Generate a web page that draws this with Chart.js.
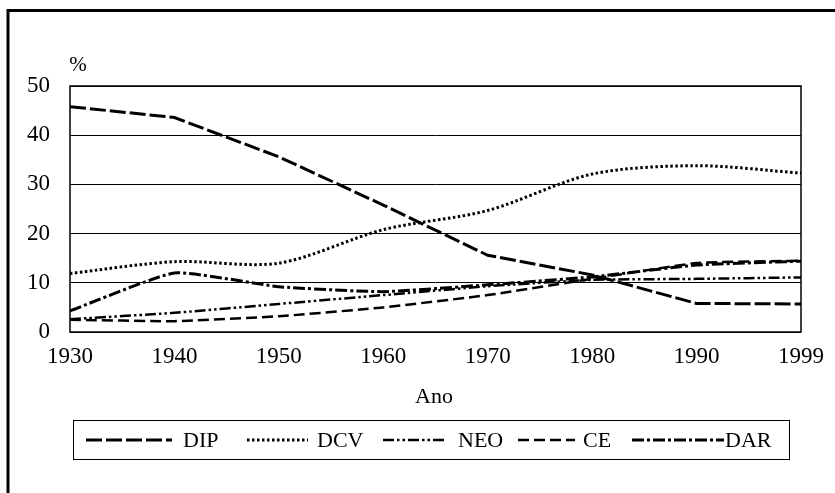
<!DOCTYPE html>
<html>
<head>
<meta charset="utf-8">
<script src="https://cdn.jsdelivr.net/npm/chart.js@4.4.1/dist/chart.umd.min.js"></script>
<style>
  html, body { margin: 0; padding: 0; background: #fff; }
  #wrap { position: relative; width: 835px; height: 493px; }
</style>
</head>
<body>
<div id="wrap"><canvas id="grafico"></canvas></div>
<script>
/* dados */
const anos = ['1930', '1940', '1950', '1960', '1970', '1980', '1990', '1999'];
const dip = [45.8, 43.6, 35.6, 25.8, 15.6, 11.6, 5.8, 5.7];
const dcv = [11.9, 14.3, 14.0, 20.8, 24.7, 32.1, 33.8, 32.3];
const neo = [2.6, 3.9, 5.7, 7.5, 9.3, 10.6, 10.8, 11.1];
const ce = [2.5, 2.2, 3.2, 5.0, 7.5, 10.8, 14.0, 14.5];
const dar = [4.3, 12.0, 9.2, 8.2, 9.6, 11.2, 13.6, 14.4];
const yTicks = [0, 10, 20, 30, 40, 50];

const fonte = '"Liberation Serif", "Times New Roman", serif';

/* moldura, área do gráfico, %, Ano e legenda */
const extras = {
    id: 'extras',
    beforeDraw(chart) {
        const c = chart.ctx;
        c.save();
        c.fillStyle = '#fff';
        c.fillRect(0, 0, chart.width, chart.height);
        c.strokeStyle = '#000';
        c.lineWidth = 3;
        c.beginPath();
        c.moveTo(8, 493);
        c.lineTo(8, 10.5);
        c.lineTo(835, 10.5);
        c.stroke();
        c.restore();
    },
    afterDraw(chart) {
        const c = chart.ctx;
        const a = chart.chartArea;
        c.save();
        c.strokeStyle = '#000';
        c.lineWidth = 1.5;
        c.strokeRect(a.left, a.top, a.right - a.left, a.bottom - a.top);

        c.fillStyle = '#000';
        c.textAlign = 'center';
        c.textBaseline = 'middle';
        c.font = '21px ' + fonte;
        c.fillText('%', 78, 65);
        c.font = '22px ' + fonte;
        c.fillText('Ano', 434, 397);

        // legenda
        c.lineWidth = 1;
        c.strokeRect(73.5, 420.5, 716, 39);
        const itens = [
            { s: 86, e: 172, t: 183 },
            { s: 247, e: 308, t: 317 },
            { s: 383, e: 444, t: 458 },
            { s: 518, e: 575, t: 583 },
            { s: 632, e: 724, t: 725 }
        ];
        c.font = '22px ' + fonte;
        c.textAlign = 'left';
        chart.data.datasets.forEach((ds, i) => {
            const it = itens[i];
            c.save();
            c.lineWidth = ds.borderWidth;
            c.setLineDash(ds.borderDash);
            c.beginPath();
            c.moveTo(it.s, 440);
            c.lineTo(it.e, 440);
            c.stroke();
            c.restore();
            c.fillText(ds.label, it.t, 441);
        });
        c.restore();
    }
};

new Chart(document.getElementById('grafico'), {
    type: 'line',
    data: {
        labels: anos,
        datasets: [
            { label: 'DIP', data: dip, borderDash: [16, 4], borderWidth: 3, tension: 0 },
            { label: 'DCV', data: dcv, borderDash: [2.5, 2.5], borderWidth: 3, tension: 0.3 },
            { label: 'NEO', data: neo, borderDash: [11, 3, 2.5, 3, 2.5, 3], borderWidth: 2.5, tension: 0.15 },
            { label: 'CE', data: ce, borderDash: [11, 5], borderWidth: 2.5, tension: 0.15 },
            { label: 'DAR', data: dar, borderDash: [12, 3, 3, 3], borderWidth: 3, tension: 0.15 }
        ].map(d => Object.assign(d, {
            borderColor: '#000',
            backgroundColor: '#000',
            pointRadius: 0,
            fill: false,
            borderCapStyle: 'butt'
        }))
    },
    options: {
        responsive: true,
        maintainAspectRatio: false,
        animation: false,
        layout: { padding: { left: 8, top: 86, right: 33, bottom: 121 } },
        plugins: {
            legend: { display: false },
            tooltip: { enabled: false }
        },
        scales: {
            x: {
                type: 'category',
                offset: false,
                grid: { display: false, drawTicks: false },
                border: { display: false },
                ticks: {
                    color: '#000',
                    padding: 11,
                    maxRotation: 0,
                    autoSkip: false,
                    font: { family: fonte, size: 23 }
                },
                afterFit(scale) { scale.height = 40; }
            },
            y: {
                min: 0,
                max: 50,
                afterBuildTicks(scale) { scale.ticks = yTicks.map(v => ({ value: v })); },
                grid: { color: '#000', lineWidth: 1, drawTicks: false },
                border: { display: false },
                ticks: {
                    color: '#000',
                    padding: 20,
                    font: { family: fonte, size: 23 }
                },
                afterFit(scale) { scale.width = 62; }
            }
        }
    },
    plugins: [extras]
});
</script>
</body>
</html>
